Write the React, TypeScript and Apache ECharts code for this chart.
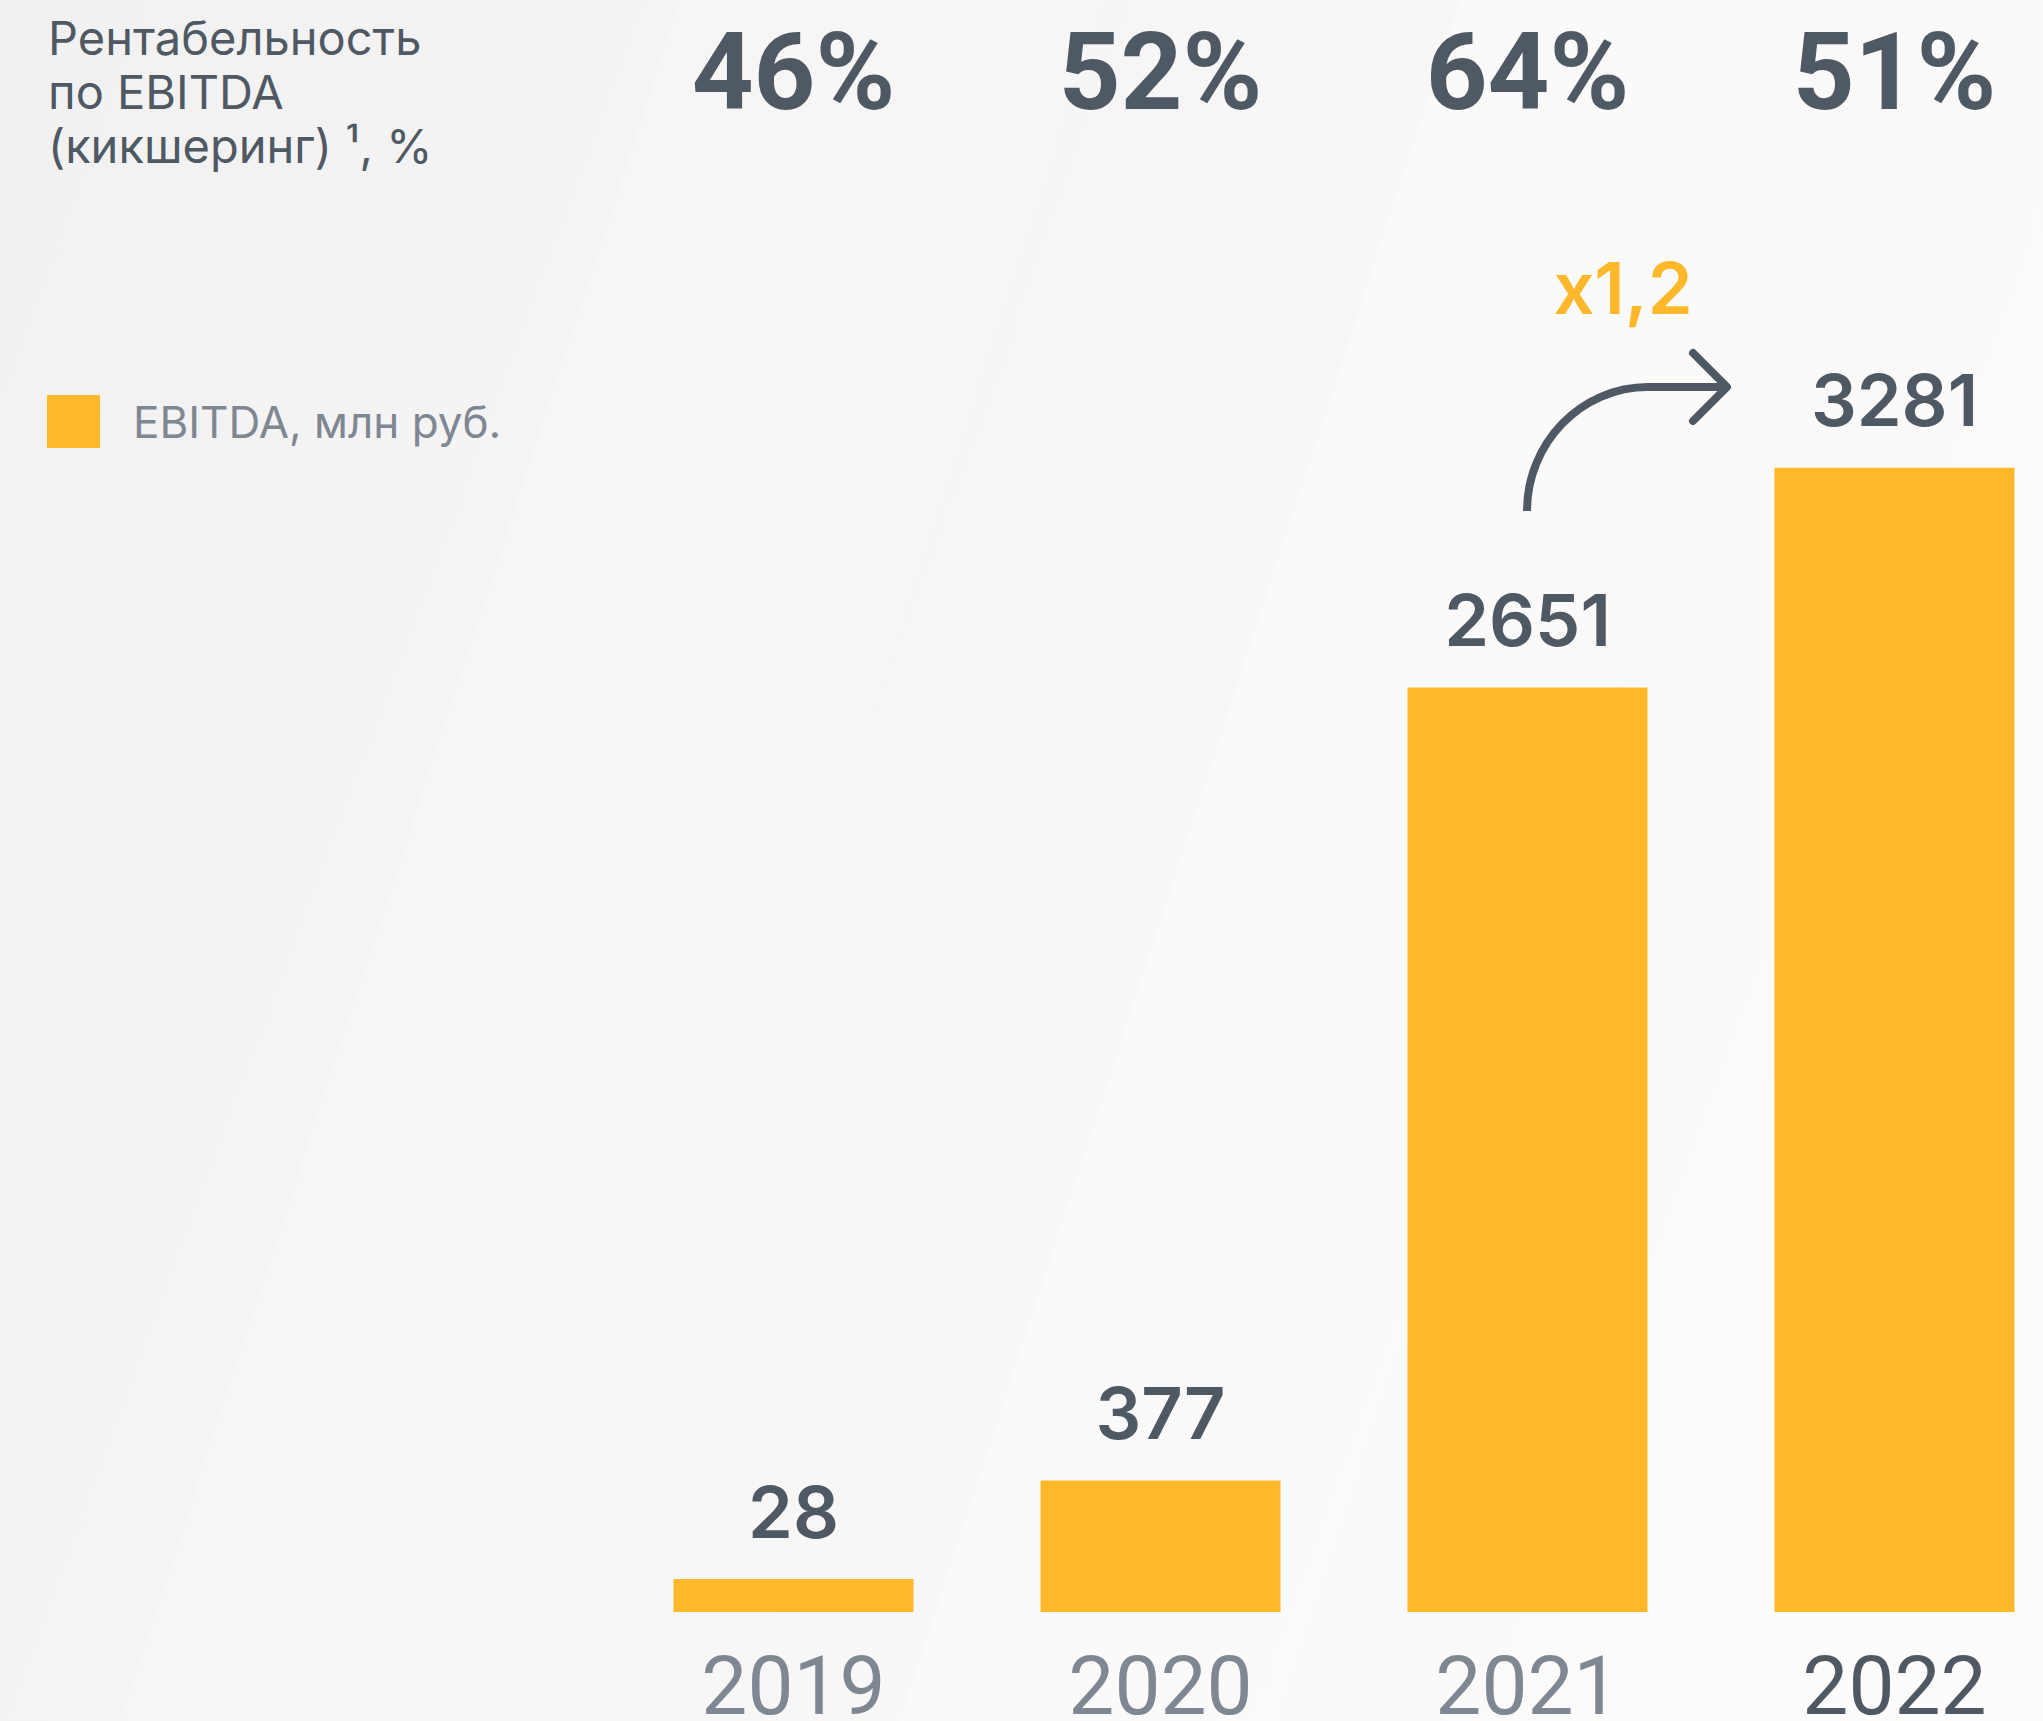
import React, { useEffect, useRef } from "react";
import * as echarts from "echarts";

const years = ["2019", "2020", "2021", "2022"];
const ebitda = [28, 377, 2651, 3281];
const margins = ["46%", "52%", "64%", "51%"];
const titleLines = ["Рентабельность", "по EBITDA", "(кикшеринг) ¹, %"];
const legendName = "EBITDA, млн руб.";
const growthLabel = "x1,2";

const DARK = "#4f5963";
const GRAY = "#7f8793";
const YELLOW = "#ffb829";
const FONT = "Inter, 'Noto Sans', sans-serif";
const NUMFONT = "Roboto, Inter, sans-serif";

export default function App() {
  const ref = useRef<HTMLDivElement>(null);
  useEffect(() => {
    if (!ref.current) return;
    const chart = echarts.init(ref.current, null, { renderer: "svg" });
    const stripe = (x0: number, w: number, fill: string) => ({
      type: "polygon",
      z: -10,
      silent: true,
      shape: {
        points: [
          [x0, 1721],
          [x0 + w, 1721],
          [x0 + w + 560, 0],
          [x0 + 560, 0],
        ],
      },
      style: { fill },
    });
    chart.setOption({
      animation: false,
      backgroundColor: new echarts.graphic.LinearGradient(0, 0, 1, 0.3, [
        { offset: 0, color: "#f1f1f1" },
        { offset: 1, color: "#fbfbfb" },
      ]),
      textStyle: { fontFamily: FONT },
      title: {
        text: titleLines.join("\n"),
        left: 48,
        top: 10,
        padding: 0,
        textStyle: {
          fontFamily: FONT,
          fontSize: 47,
          lineHeight: 54,
          fontWeight: 400,
          color: DARK,
        },
      },
      legend: {
        data: [legendName],
        left: 47,
        top: 395,
        padding: 0,
        icon: "rect",
        itemWidth: 53,
        itemHeight: 53,
        textStyle: {
          fontFamily: FONT,
          fontSize: 44,
          color: GRAY,
          padding: [0, 0, 0, 28],
        },
      },
      grid: {
        left: 610,
        width: 1468,
        top: 217,
        bottom: 109,
        containLabel: false,
        outerBoundsMode: "none",
      },
      xAxis: [
        {
          type: "category",
          data: years,
          axisLine: { show: false },
          axisTick: { show: false },
          axisLabel: {
            margin: 33,
            fontFamily: NUMFONT,
            fontSize: 82,
            lineHeight: 82,
            color: (v: string) => (v === "2022" ? DARK : GRAY),
          },
        },
        {
          type: "category",
          position: "top",
          data: margins,
          axisLine: { show: false },
          axisTick: { show: false },
          axisLabel: {
            margin: 91,
            fontFamily: NUMFONT,
            fontSize: 108,
            lineHeight: 108,
            fontWeight: 700,
            color: DARK,
          },
        },
      ],
      yAxis: { type: "value", min: 0, max: 4000, show: false },
      series: [
        {
          name: legendName,
          type: "bar",
          data: ebitda,
          barWidth: 240,
          barMinHeight: 33,
          itemStyle: { color: YELLOW },
          label: {
            show: true,
            position: "top",
            distance: 32,
            fontFamily: FONT,
            fontSize: 72,
            lineHeight: 72,
            fontWeight: 600,
            color: DARK,
          },
        },
      ],
      graphic: [
        stripe(120, 420, "rgba(255,255,255,0.18)"),
        stripe(900, 380, "rgba(255,255,255,0.25)"),
        stripe(1560, 420, "rgba(255,255,255,0.3)"),
        {
          type: "text",
          x: 1623,
          y: 287,
          style: {
            text: growthLabel,
            fontFamily: FONT,
            fontSize: 72,
            fontWeight: 600,
            fill: YELLOW,
            textAlign: "center",
            textVerticalAlign: "middle",
          },
        },
        {
          type: "bezierCurve",
          shape: {
            x1: 1527,
            y1: 511,
            cpx1: 1527,
            cpy1: 443,
            cpx2: 1581,
            cpy2: 387,
            x2: 1648,
            y2: 387,
          },
          style: { stroke: DARK, lineWidth: 8, fill: "none" },
        },
        {
          type: "line",
          shape: { x1: 1646, y1: 387, x2: 1725, y2: 387 },
          style: { stroke: DARK, lineWidth: 8 },
        },
        {
          type: "polyline",
          shape: {
            points: [
              [1693, 353],
              [1727, 387],
              [1693, 421],
            ],
          },
          style: { stroke: DARK, lineWidth: 8, lineCap: "round", lineJoin: "round", fill: "none" },
        },
      ],
    });
    return () => chart.dispose();
  }, []);
  return (
    <div
      style={{
        position: "fixed",
        left: 0,
        top: 0,
        width: 2043,
        height: 1721,
        overflow: "hidden",
      }}
    >
      <div ref={ref} style={{ width: 2120, height: 1721 }} />
    </div>
  );
}
